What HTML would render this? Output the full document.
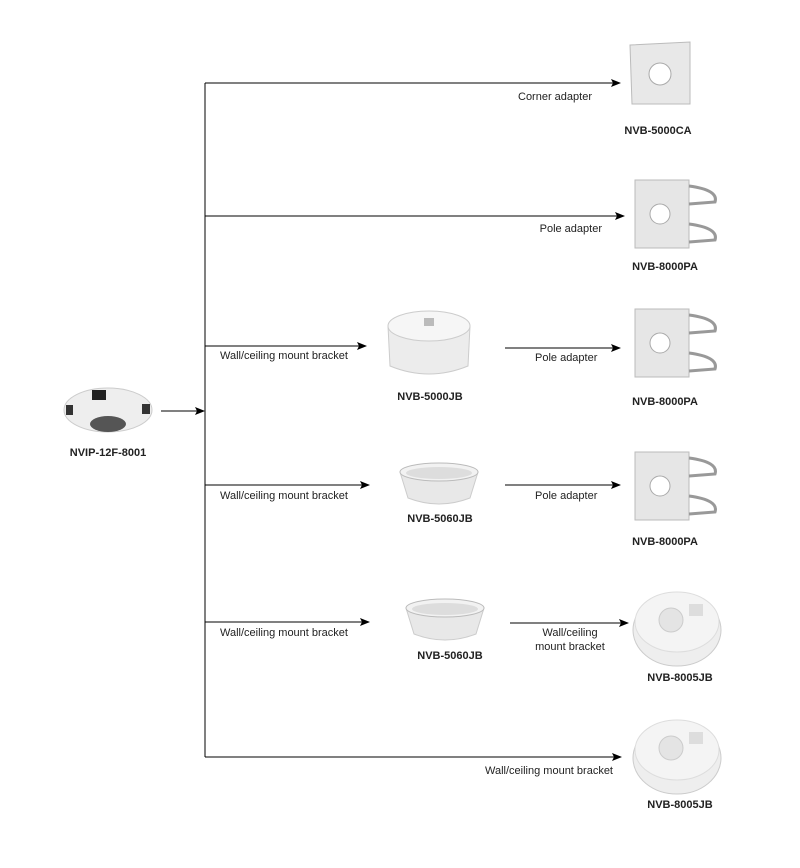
<!DOCTYPE html>
<html><head><style>body{margin:0;background:#fff}svg{display:block}text{font-family:"Liberation Sans",sans-serif;fill:#222}</style></head><body>
<svg width="800" height="868" viewBox="0 0 800 868" xmlns="http://www.w3.org/2000/svg">
<defs><marker id="a" markerWidth="10" markerHeight="8" refX="9" refY="4" orient="auto" markerUnits="userSpaceOnUse"><path d="M0,0 L10,4 L0,8 L2,4 Z" fill="#000"/></marker>
<g id="pole"><rect x="0" y="0" width="54" height="68" fill="#e6e6e6" stroke="#bbb"/><circle cx="25" cy="34" r="10" fill="#fff" stroke="#aaa"/><path d="M54,6 q30,4 26,16 l-26,2 M54,44 q30,4 26,16 l-26,2" fill="none" stroke="#999" stroke-width="3"/></g>
<g id="jb8"><ellipse cx="44" cy="44" rx="44" ry="36" fill="#eee" stroke="#ccc"/><ellipse cx="44" cy="36" rx="42" ry="30" fill="#f4f4f4" stroke="#ddd"/><circle cx="38" cy="34" r="12" fill="#e4e4e4" stroke="#ccc"/><rect x="56" y="18" width="14" height="12" fill="#ddd"/></g>
<g id="ring"><path d="M0,14 L8,40 Q39,52 70,40 L78,14 Z" fill="#e8e8e8" stroke="#ccc"/><ellipse cx="39" cy="14" rx="39" ry="9" fill="#f2f2f2" stroke="#bbb"/><ellipse cx="39" cy="15" rx="33" ry="6" fill="#ddd"/></g>
</defs>
<g stroke="#000" stroke-width="1" fill="none">
<line x1="205" y1="83" x2="205" y2="757"/>
<line x1="205" y1="83" x2="620" y2="83" marker-end="url(#a)"/>
<line x1="205" y1="216" x2="624" y2="216" marker-end="url(#a)"/>
<line x1="205" y1="346" x2="366" y2="346" marker-end="url(#a)"/>
<line x1="161" y1="411" x2="204" y2="411" marker-end="url(#a)"/>
<line x1="205" y1="485" x2="369" y2="485" marker-end="url(#a)"/>
<line x1="205" y1="622" x2="369" y2="622" marker-end="url(#a)"/>
<line x1="205" y1="757" x2="621" y2="757" marker-end="url(#a)"/>
<line x1="505" y1="348" x2="620" y2="348" marker-end="url(#a)"/>
<line x1="505" y1="485" x2="620" y2="485" marker-end="url(#a)"/>
<line x1="510" y1="623" x2="628" y2="623" marker-end="url(#a)"/>
</g>
<g font-size="11">
<text x="592" y="100" text-anchor="end">Corner adapter</text>
<text x="602" y="232" text-anchor="end">Pole adapter</text>
<text x="220" y="359">Wall/ceiling mount bracket</text>
<text x="220" y="499">Wall/ceiling mount bracket</text>
<text x="220" y="636">Wall/ceiling mount bracket</text>
<text x="535" y="361">Pole adapter</text>
<text x="535" y="499">Pole adapter</text>
<text x="570" y="636" text-anchor="middle">Wall/ceiling</text>
<text x="570" y="650" text-anchor="middle">mount bracket</text>
<text x="613" y="774" text-anchor="end">Wall/ceiling mount bracket</text>
</g>
<g font-size="11" font-weight="bold" text-anchor="middle">
<text x="108" y="456">NVIP-12F-8001</text>
<text x="658" y="134">NVB-5000CA</text>
<text x="665" y="270">NVB-8000PA</text>
<text x="430" y="400">NVB-5000JB</text>
<text x="665" y="405">NVB-8000PA</text>
<text x="440" y="522">NVB-5060JB</text>
<text x="665" y="545">NVB-8000PA</text>
<text x="450" y="659">NVB-5060JB</text>
<text x="680" y="681">NVB-8005JB</text>
<text x="680" y="808">NVB-8005JB</text>
</g>
<!-- camera -->
<ellipse cx="108" cy="410" rx="44" ry="22" fill="#eee" stroke="#ccc"/>
<rect x="92" y="390" width="14" height="10" fill="#222"/>
<ellipse cx="108" cy="424" rx="18" ry="8" fill="#555"/>
<rect x="66" y="405" width="7" height="10" fill="#333"/><rect x="142" y="404" width="8" height="10" fill="#333"/>
<!-- corner adapter -->
<path d="M630,45 L690,42 L690,104 L632,104 Z" fill="#e8e8e8" stroke="#bbb"/>
<circle cx="660" cy="74" r="11" fill="#fff" stroke="#aaa"/>
<use href="#pole" x="635" y="180"/>
<use href="#pole" x="635" y="309"/>
<use href="#pole" x="635" y="452"/>
<!-- 5000JB -->
<path d="M388,326 L390,366 Q429,382 468,366 L470,326 Z" fill="#ececec" stroke="#ccc"/>
<ellipse cx="429" cy="326" rx="41" ry="15" fill="#f6f6f6" stroke="#ccc"/>
<rect x="424" y="318" width="10" height="8" fill="#bbb"/>
<use href="#ring" x="400" y="458"/>
<use href="#ring" x="406" y="594"/>
<use href="#jb8" x="633" y="586"/>
<use href="#jb8" x="633" y="714"/>
</svg>
</body></html>
